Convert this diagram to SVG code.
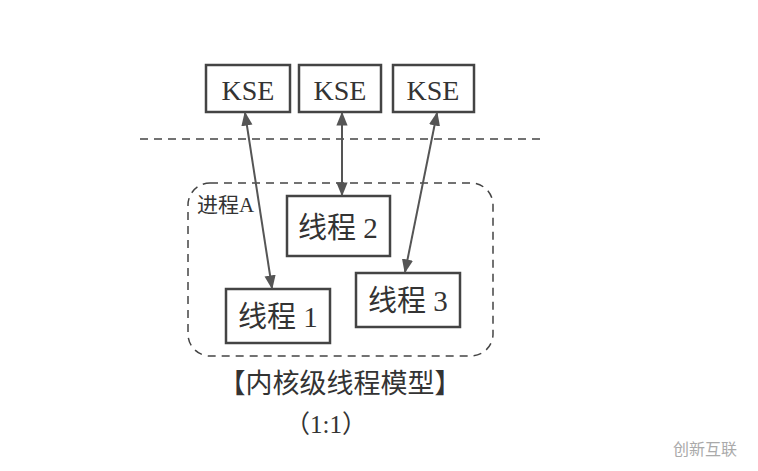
<svg xmlns="http://www.w3.org/2000/svg" width="758" height="471" viewBox="0 0 758 471">
<defs>
<marker id="ah" viewBox="0 0 10 10" refX="9" refY="5" markerWidth="7" markerHeight="7" orient="auto-start-reverse"><path d="M0,1 L10,5 L0,9 z" fill="#555"/></marker>
</defs>
<style>
.box{fill:#fff;stroke:#444;stroke-width:2.5}
.t{font-family:"Liberation Serif","Noto Sans CJK SC",serif;fill:#333}
.c{stroke:#555;stroke-width:2;fill:none;marker-start:url(#ah);marker-end:url(#ah)}
.d{stroke:#444;stroke-width:1.5;fill:none;stroke-dasharray:8,6}
</style>
<rect width="758" height="471" fill="#fff"/>
<line class="d" x1="140" y1="139" x2="540" y2="139"/>
<rect class="d" x="188" y="183" width="305" height="173" rx="22" stroke-width="2"/>
<text class="t" x="197" y="212" font-size="21">进程A</text>
<g id="kse1"><rect class="box" x="206" y="65" width="84" height="47"/><text class="t" x="248" y="100" font-size="28" text-anchor="middle">KSE</text></g>
<g id="kse2"><rect class="box" x="299" y="65" width="82" height="47"/><text class="t" x="340" y="100" font-size="28" text-anchor="middle">KSE</text></g>
<g id="kse3"><rect class="box" x="393" y="65" width="81" height="47"/><text class="t" x="433" y="100" font-size="28" text-anchor="middle">KSE</text></g>
<g id="t2"><rect class="box" x="287" y="196" width="103" height="60"/><text class="t" x="338" y="238" font-size="29" text-anchor="middle">线程 2</text></g>
<g id="t1"><rect class="box" x="226" y="289" width="104" height="54"/><text class="t" x="278" y="327" font-size="29" text-anchor="middle">线程 1</text></g>
<g id="t3"><rect class="box" x="356" y="273" width="104" height="54"/><text class="t" x="408" y="311" font-size="29" text-anchor="middle">线程 3</text></g>
<g id="connectors">
<line class="c" x1="245" y1="113" x2="272" y2="288"/>
<line class="c" x1="342" y1="113" x2="342" y2="195"/>
<line class="c" x1="437" y1="113" x2="405" y2="272"/>
</g>
<text class="t" x="340" y="393" font-size="27" text-anchor="middle">【内核级线程模型】</text>
<text class="t" x="326" y="433" font-size="25" text-anchor="middle">（1:1）</text>
<text x="705" y="455" font-size="16" fill="#aaa" text-anchor="middle" font-family="Noto Sans CJK SC,sans-serif">创新互联</text>
</svg>
